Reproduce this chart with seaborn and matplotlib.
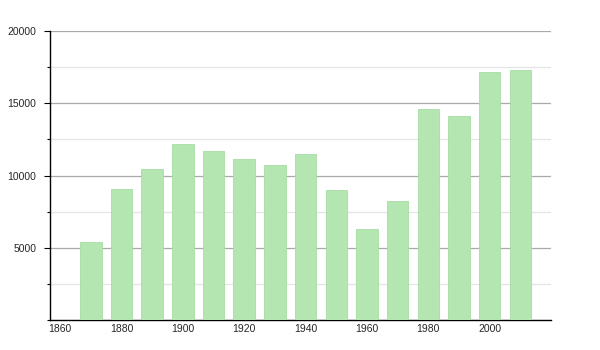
import matplotlib
matplotlib.use("Agg")
import matplotlib.pyplot as plt
import seaborn as sns
import pandas as pd
from matplotlib.ticker import MultipleLocator

years = [1870, 1880, 1890, 1900, 1910, 1920, 1930, 1940, 1950, 1960, 1970, 1980, 1990, 2000, 2010]
population = [5400, 9050, 10430, 12160, 11680, 11130, 10710, 11470, 8980, 6290, 8220, 14580, 14100, 17140, 17280]
xtick_labels = ["1860", "1880", "1900", "1920", "1940", "1960", "1980", "2000"]
ytick_values = [5000, 10000, 15000, 20000]

sns.set_style("white")
plt.rcParams['font.family'] = ['Liberation Sans', 'DejaVu Sans']

df = pd.DataFrame({"year": years, "population": population})

fig = plt.figure(figsize=(6, 3.5), dpi=100)
ax = fig.add_axes([50/600, 30/350, 501/600, 289/350])

sns.barplot(data=df, x="year", y="population", native_scale=True, width=0.7,
            color="#b3e6b1", saturation=1, edgecolor="#a6dca4", linewidth=0.6, ax=ax, zorder=3)

ax.set_xlim(1856.7, 2020)
ax.set_ylim(0, 20000)

ax.set_xticks([int(t) for t in xtick_labels])
ax.set_xticklabels(xtick_labels)
ax.set_yticks(ytick_values)
ax.set_yticklabels([str(v) for v in ytick_values])
ax.yaxis.set_minor_locator(MultipleLocator(2500))

ax.set_axisbelow(True)
ax.grid(axis="y", which="major", color="#a9a9a9", linewidth=0.9, zorder=0)
ax.grid(axis="y", which="minor", color="#e4e4e4", linewidth=0.9, zorder=0)
ax.grid(axis="x", visible=False)

for s in ["top", "right"]:
    ax.spines[s].set_visible(False)
ax.spines["left"].set_color("black")
ax.spines["bottom"].set_color("black")
ax.spines["left"].set_linewidth(1.0)
ax.spines["bottom"].set_linewidth(1.0)

ax.tick_params(axis="y", which="major", left=True, length=4.3, width=0.8, color="black", pad=5.5, labelsize=7.5)
ax.tick_params(axis="y", which="minor", left=True, length=2, width=0.8, color="black")
ax.tick_params(axis="x", which="both", bottom=False, length=0, pad=3, labelsize=7.5)

ax.set_xlabel("")
ax.set_ylabel("")

fig.savefig("out.png", dpi=100)
